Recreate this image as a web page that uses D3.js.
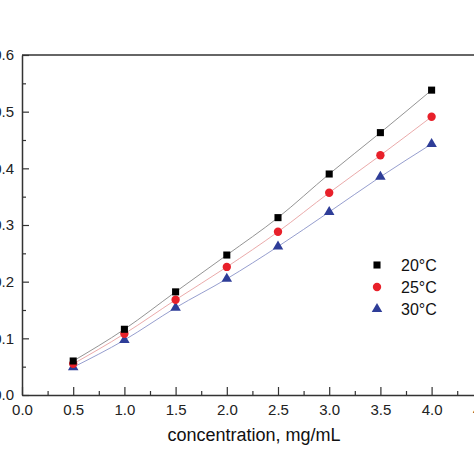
<!DOCTYPE html>
<html>
<head>
<meta charset="utf-8">
<script src="https://cdn.jsdelivr.net/npm/d3@7"></script>
<style>
  html, body { margin: 0; padding: 0; background: #fff; }
  svg { display: block; }
  text { font-family: "Liberation Sans", Arial, sans-serif; }
</style>
</head>
<body>
<script>
const concentrations = [0.5, 1.0, 1.5, 2.0, 2.5, 3.0, 3.5, 4.0];
const series20 = [0.060, 0.116, 0.182, 0.247, 0.313, 0.390, 0.463, 0.538];
const series25 = [0.055, 0.108, 0.168, 0.226, 0.288, 0.357, 0.423, 0.491];
const series30 = [0.049, 0.097, 0.154, 0.205, 0.262, 0.323, 0.385, 0.443];
const seriesNames = ["20°C", "25°C", "30°C"];
const xTicks = [0, 0.5, 1.0, 1.5, 2.0, 2.5, 3.0, 3.5, 4.0, 4.5];
const yTicks = [0, 0.1, 0.2, 0.3, 0.4, 0.5, 0.6];
const xLabel = "concentration, mg/mL";

const W = 474, H = 474;
const svg = d3.select("body").append("svg").attr("width", W).attr("height", H);

const x = d3.scaleLinear().domain([0, 4.5]).range([22, 482.8]);
const y = d3.scaleLinear().domain([0, 0.6]).range([395, 55]);

const axisColor = "#333";

// frame: top line and right line
svg.append("line").attr("x1", x(0)).attr("x2", x(4.5)).attr("y1", y(0.6)).attr("y2", y(0.6))
  .attr("stroke", axisColor).attr("stroke-width", 1.5);
svg.append("line").attr("x1", x(4.5)).attr("x2", x(4.5)).attr("y1", y(0.6)).attr("y2", y(0))
  .attr("stroke", axisColor).attr("stroke-width", 1.5);

// x axis
const xAxis = svg.append("g").attr("transform", `translate(0,${y(0)})`)
  .call(d3.axisBottom(x).tickValues(xTicks).tickFormat(d3.format(".1f")).tickSizeInner(-8).tickSizeOuter(0).tickPadding(9));
const xMinor = svg.append("g").attr("transform", `translate(0,${y(0)})`)
  .call(d3.axisBottom(x).tickValues(d3.range(0.25, 4.5, 0.5)).tickFormat("").tickSizeInner(-4).tickSizeOuter(0));
xMinor.select(".domain").remove();

// y axis
const yAxis = svg.append("g").attr("transform", `translate(${x(0)},0)`)
  .call(d3.axisLeft(y).tickValues(yTicks).tickFormat(d3.format(".1f")).tickSizeInner(-7).tickSizeOuter(0).tickPadding(8));
const yMinor = svg.append("g").attr("transform", `translate(${x(0)},0)`)
  .call(d3.axisLeft(y).tickValues(d3.range(0.05, 0.6, 0.1)).tickFormat("").tickSizeInner(-4).tickSizeOuter(0));
yMinor.select(".domain").remove();

[xAxis, yAxis, xMinor, yMinor].forEach(g => {
  g.selectAll(".domain").attr("stroke", axisColor).attr("stroke-width", 1.5);
  g.selectAll(".tick line").attr("stroke", axisColor).attr("stroke-width", 1.2);
  g.selectAll("text").attr("font-size", 15).attr("fill", "#222")
    .style("font-family", '"Liberation Sans", Arial, sans-serif');
});
xAxis.selectAll("text").attr("dy", "0.71em");

// axis title
svg.append("text").attr("x", 254).attr("y", 441).attr("text-anchor", "middle")
  .attr("font-size", 18).attr("fill", "#111").text(xLabel);

// series
const allSeries = [
  { name: seriesNames[0], values: series20, color: "#000000", line: "#888888", shape: d3.symbolSquare, size: 50 },
  { name: seriesNames[1], values: series25, color: "#e8202a", line: "#e8a0a0", shape: d3.symbolCircle, size: 55 },
  { name: seriesNames[2], values: series30, color: "#2e3d98", line: "#8a93c8", shape: d3.symbolTriangle, size: 48 }
];

const lineGen = d3.line().x((d, i) => x(concentrations[i])).y(d => y(d)).curve(d3.curveMonotoneX);

allSeries.slice().reverse().forEach(s => {
  svg.append("path").datum(s.values).attr("d", lineGen)
    .attr("fill", "none").attr("stroke", s.line).attr("stroke-width", 0.9);
});
allSeries.slice().reverse().forEach(s => {
  svg.append("g").selectAll("path").data(s.values).join("path")
    .attr("transform", (d, i) => `translate(${x(concentrations[i])},${y(d)})`)
    .attr("d", d3.symbol().type(s.shape).size(s.size))
    .attr("fill", s.color);
});

// legend
const legend = svg.append("g");
allSeries.forEach((s, i) => {
  const ly = 265 + i * 22;
  legend.append("path").attr("transform", `translate(377,${ly})`)
    .attr("d", d3.symbol().type(s.shape).size(s.size)).attr("fill", s.color);
  legend.append("text").attr("x", 401).attr("y", ly).attr("dy", "0.36em")
    .attr("font-size", 16).attr("fill", "#111").text(s.name);
});
</script>
</body>
</html>
